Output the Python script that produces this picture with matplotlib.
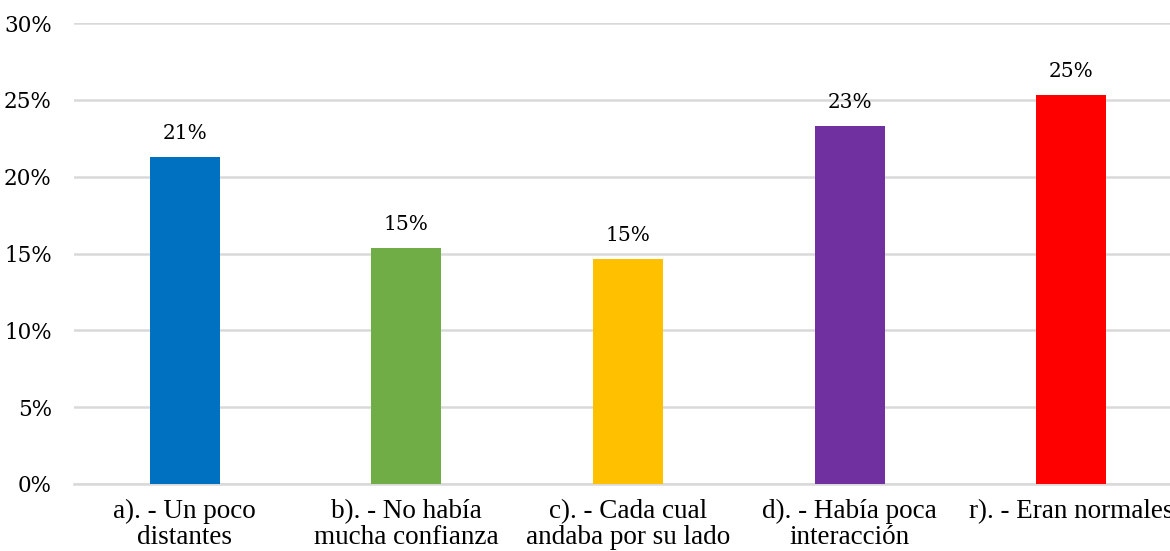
import numpy as np
import matplotlib.pyplot as plt

categories = ["a). - Un poco\ndistantes", "b). - No había\nmucha confianza",
              "c). - Cada cual\nandaba por su lado", "d). - Había poca\ninteracción",
              "r). - Eran normales"]
values = [21.3, 15.35, 14.65, 23.3, 25.3]
labels = ["21%", "15%", "15%", "23%", "25%"]
colors = ["#0070C0", "#70AD47", "#FFC000", "#7030A0", "#FF0000"]

W, H = 1170, 551
fig = plt.figure(figsize=(W / 100, H / 100), dpi=100)
ax = fig.add_axes([74 / W, (H - 484) / H, 1108 / W, 461 / H])

x = np.arange(len(categories))
ax.bar(x, values, width=0.316, color=colors, zorder=3)
for xi, v, lab in zip(x, values, labels):
    ax.text(xi, v + 0.9, lab, ha="center", va="bottom", fontsize=14.5,
            family="DejaVu Serif", color="#000000")

ax.set_xlim(-0.5, len(categories) - 0.5)
ax.set_ylim(0, 30)
ax.set_yticks(np.arange(0, 31, 5))
ax.set_yticklabels([f"{t}%" for t in range(0, 31, 5)], family="DejaVu Serif", fontsize=15.5)
ax.set_xticks(x)
ax.set_xticklabels(categories, family="Liberation Serif", fontsize=19.5, linespacing=1.02)
ax.tick_params(axis="both", length=0)
ax.tick_params(axis="y", pad=16)
ax.tick_params(axis="x", pad=11)
ax.grid(axis="y", color="#d9d9d9", linewidth=1.8, zorder=0)
for s in ["top", "right", "left"]:
    ax.spines[s].set_visible(False)
ax.spines["bottom"].set_color("#d9d9d9")
ax.spines["bottom"].set_linewidth(1.8)

fig.savefig("out.png", dpi=100)
